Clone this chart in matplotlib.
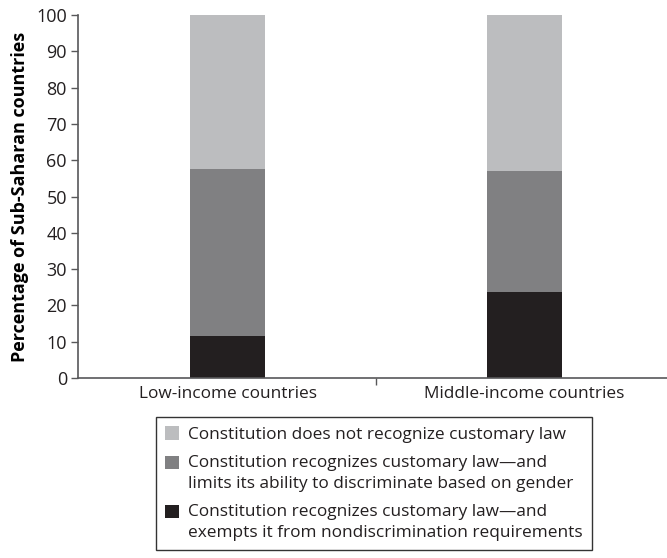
import matplotlib
matplotlib.use("Agg")
import matplotlib.pyplot as plt
import numpy as np
from matplotlib.legend_handler import HandlerPatch, update_from_first_child
from matplotlib.patches import Rectangle

categories = ["Low-income countries", "Middle-income countries"]
exempts = [11.5, 23.8]
limits = [46.2, 33.3]
not_recognized = [42.3, 42.9]

series_labels = [
    "Constitution does not recognize customary law",
    "Constitution recognizes customary law\u2014and\nlimits its ability to discriminate based on gender",
    "Constitution recognizes customary law\u2014and\nexempts it from nondiscrimination requirements",
]

TEXT = "#231f20"
DARK = "#231f20"
MID = "#808082"
LIGHT = "#bcbdbf"
AXIS = "#58585a"

plt.rcParams["font.family"] = ["Open Sans", "DejaVu Sans"]
plt.rcParams["text.color"] = TEXT


def first_line_patch(legend, orig_handle, xdescent, ydescent, width, height, fontsize):
    # keep the swatch level with the first line of a two-line label
    return Rectangle((-xdescent, -ydescent + fontsize * 0.62), width, height)


fig = plt.figure(figsize=(6.67, 5.58), dpi=100)
ax = fig.add_axes([78 / 667, 1 - 378 / 558, 596 / 667, 363 / 558])

x = np.arange(len(categories))
width = 0.253
b1 = ax.bar(x, exempts, width, color=DARK)
b2 = ax.bar(x, limits, width, bottom=exempts, color=MID)
b3 = ax.bar(x, not_recognized, width, bottom=np.add(exempts, limits), color=LIGHT)

ax.set_xlim(-0.505, 1.505)
ax.set_ylim(0, 100)
ax.set_yticks(range(0, 101, 10))
ax.tick_params(axis="y", direction="out", length=5, width=1, colors=AXIS,
               labelcolor=TEXT, labelsize=13, pad=3)

ax.set_xticks(x)
ax.set_xticklabels(categories)
ax.tick_params(axis="x", length=0, labelsize=12.4, labelcolor=TEXT, pad=6)
ax.set_xticks([0.5, 1.5], minor=True)
ax.tick_params(axis="x", which="minor", direction="out", length=5, width=1, colors=AXIS)

for side in ("top", "right"):
    ax.spines[side].set_visible(False)
for side in ("left", "bottom"):
    ax.spines[side].set_color(AXIS)
    ax.spines[side].set_linewidth(1.2)

ax.set_ylabel("Percentage of Sub-Saharan countries", fontsize=13,
              fontweight="bold", labelpad=5)

two_line = HandlerPatch(patch_func=first_line_patch, update_func=update_from_first_child)
leg = fig.legend([b3, b2, b1], series_labels, loc="upper left",
                 bbox_to_anchor=(156 / 667, 1 - 417 / 558),
                 handler_map={b2: two_line, b1: two_line},
                 frameon=True, fancybox=False, fontsize=12.4,
                 handlelength=0.8, handleheight=0.8, handletextpad=0.5,
                 labelspacing=0.7, borderpad=0.55, borderaxespad=0)
leg.get_frame().set_edgecolor("#000000")
leg.get_frame().set_linewidth(1)
for t in leg.get_texts():
    t.set_linespacing(1.4)

fig.savefig("out.png", dpi=100)
